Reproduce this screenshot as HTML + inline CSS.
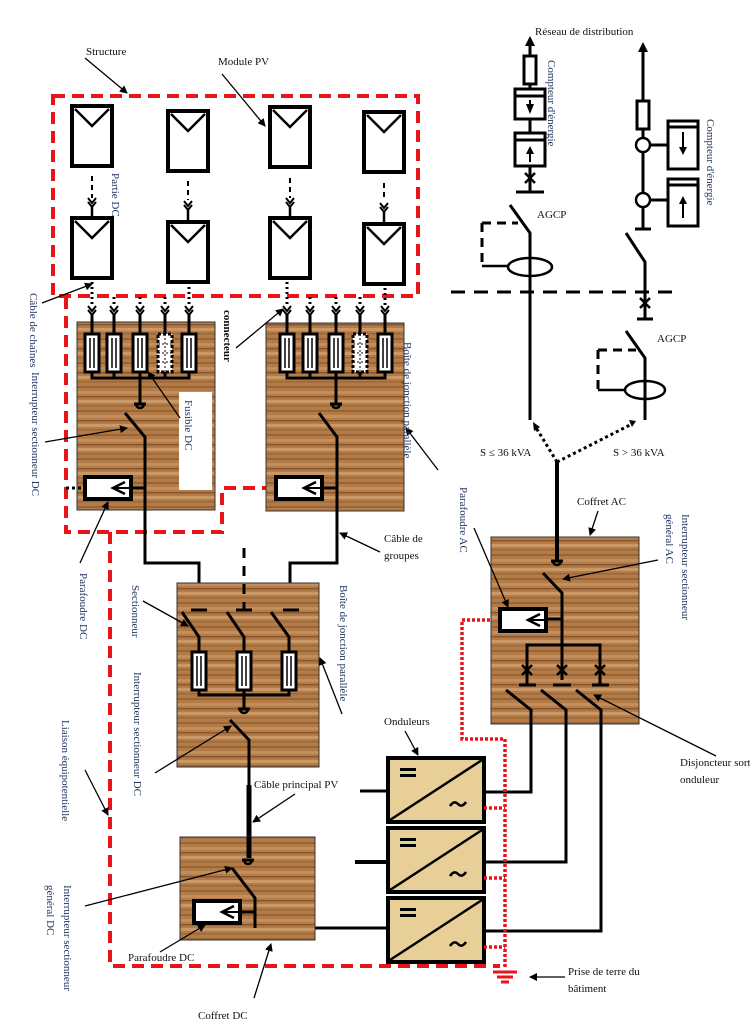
<!DOCTYPE html>
<html><head><meta charset="utf-8"><style>
html,body{margin:0;padding:0;background:#fff;}
svg{display:block;}
text{font-family:"Liberation Serif",serif;font-size:11px;fill:#111;}
.r{fill:#22365f;}
</style></head><body>
<svg width="750" height="1024" viewBox="0 0 750 1024" xmlns="http://www.w3.org/2000/svg">
<defs>
<pattern id="wood" width="60" height="24" patternUnits="userSpaceOnUse">
<rect width="60" height="24" fill="#b27b47"/>
<rect y="2" width="60" height="2" fill="#9a6535"/>
<rect y="7" width="60" height="3" fill="#c48e5a"/>
<rect y="12" width="60" height="1.5" fill="#8a5630"/>
<rect y="16" width="60" height="3" fill="#c99866"/>
<rect y="21" width="60" height="1.5" fill="#9c6838"/>
</pattern>
<marker id="ah" markerWidth="8" markerHeight="8" refX="7" refY="4" orient="auto" markerUnits="userSpaceOnUse">
<path d="M0,0 L8,4 L0,8 z" fill="#000"/></marker>
<g id="mod"><rect x="0" y="0" width="40" height="60" fill="#fff" stroke="#000" stroke-width="4"/><polyline points="3,3 20,20 37,3" fill="none" stroke="#000" stroke-width="2.5"/></g>
<g id="chev" fill="none" stroke="#000" stroke-width="2"><polyline points="-4,-4 0,1 4,-4"/><polyline points="-4,0 0,5 4,0"/></g>
<g id="fuse"><rect x="-7" y="0" width="14" height="38" fill="#fff" stroke="#000" stroke-width="3"/><line x1="-2" y1="4" x2="-2" y2="34" stroke="#000" stroke-width="1.5"/><line x1="2" y1="4" x2="2" y2="34" stroke="#000" stroke-width="1.5"/></g>
<g id="fuseD"><rect x="-7" y="0" width="14" height="38" fill="#fff" stroke="#000" stroke-width="3" stroke-dasharray="3,2"/><line x1="-7" y1="10" x2="7" y2="10" stroke="#000" stroke-dasharray="2,2"/><line x1="-7" y1="19" x2="7" y2="19" stroke="#000" stroke-dasharray="2,2"/><line x1="-7" y1="28" x2="7" y2="28" stroke="#000" stroke-dasharray="2,2"/><line x1="0" y1="0" x2="0" y2="38" stroke="#000" stroke-dasharray="2,2"/></g>
<g id="term"><line x1="-6" y1="0" x2="6" y2="0" stroke="#000" stroke-width="3"/><path d="M-4,0 A4,4 0 0 0 4,0" fill="none" stroke="#000" stroke-width="2.5"/></g>
<g id="para"><rect x="0" y="0" width="46" height="22" fill="#fff" stroke="#000" stroke-width="4"/><polyline points="40,5 28,11 40,17" fill="none" stroke="#000" stroke-width="2.5"/><line x1="28" y1="11" x2="46" y2="11" stroke="#000" stroke-width="2"/></g>
<g id="inv"><rect x="0" y="0" width="96" height="64" fill="#e8cf98" stroke="#000" stroke-width="4"/><line x1="2" y1="62" x2="94" y2="2" stroke="#000" stroke-width="2.5"/><rect x="12" y="10" width="16" height="3" fill="#000"/><rect x="12" y="16" width="16" height="3" fill="#000"/><path d="M62,48 q4,-6 8,-2 q4,4 8,-2" fill="none" stroke="#000" stroke-width="2.5"/></g>
</defs>

<g fill="none" stroke="#e8141a" stroke-width="4" stroke-dasharray="12,7">
<rect x="53" y="96" width="365" height="200"/>
<polyline points="66,297 66,532 222,532 222,488 270,488"/>
<polyline points="110,532 110,966 500,966"/>
</g>

<g>
<use href="#mod" x="72" y="106"/><use href="#mod" x="168" y="111"/><use href="#mod" x="270" y="107"/><use href="#mod" x="364" y="112"/>
<use href="#mod" x="72" y="218"/><use href="#mod" x="168" y="222"/><use href="#mod" x="270" y="218"/><use href="#mod" x="364" y="224"/>
</g>
<g stroke="#000" stroke-width="2" stroke-dasharray="5,4">
<line x1="92" y1="176" x2="92" y2="198"/><line x1="188" y1="181" x2="188" y2="200"/><line x1="290" y1="178" x2="290" y2="198"/><line x1="384" y1="183" x2="384" y2="200"/>
</g>
<use href="#chev" x="92" y="202"/><use href="#chev" x="188" y="205"/><use href="#chev" x="290" y="202"/><use href="#chev" x="384" y="207"/>
<g stroke="#000" stroke-width="2.5"><line x1="92" y1="207" x2="92" y2="218"/><line x1="188" y1="210" x2="188" y2="222"/><line x1="290" y1="207" x2="290" y2="218"/><line x1="384" y1="212" x2="384" y2="224"/></g>

<rect x="77" y="322" width="138" height="188" fill="url(#wood)" stroke="#333"/>
<rect x="266" y="323" width="138" height="188" fill="url(#wood)" stroke="#333"/>
<rect x="179" y="392" width="33" height="98" fill="#fff"/>
<g stroke="#000" stroke-width="3" stroke-dasharray="2,3" fill="none">
<line x1="92" y1="282" x2="92" y2="305"/><line x1="114" y1="297" x2="114" y2="305"/><line x1="140" y1="297" x2="140" y2="305"/><line x1="165" y1="297" x2="165" y2="305"/><line x1="189" y1="282" x2="189" y2="305"/>
<line x1="287" y1="282" x2="287" y2="305"/><line x1="310" y1="297" x2="310" y2="305"/><line x1="336" y1="297" x2="336" y2="305"/><line x1="360" y1="297" x2="360" y2="305"/><line x1="385" y1="288" x2="385" y2="305"/>
</g>
<g>
<use href="#chev" x="92" y="310"/><use href="#chev" x="114" y="310"/><use href="#chev" x="140" y="310"/><use href="#chev" x="165" y="310"/><use href="#chev" x="189" y="310"/>
<use href="#chev" x="287" y="310"/><use href="#chev" x="310" y="310"/><use href="#chev" x="336" y="310"/><use href="#chev" x="360" y="310"/><use href="#chev" x="385" y="310"/>
</g>
<g stroke="#000" stroke-width="3" fill="none">
<line x1="92" y1="314" x2="92" y2="334"/><line x1="114" y1="314" x2="114" y2="334"/><line x1="140" y1="314" x2="140" y2="334"/><line x1="165" y1="314" x2="165" y2="334"/><line x1="189" y1="314" x2="189" y2="334"/>
<line x1="287" y1="314" x2="287" y2="334"/><line x1="310" y1="314" x2="310" y2="334"/><line x1="336" y1="314" x2="336" y2="334"/><line x1="360" y1="314" x2="360" y2="334"/><line x1="385" y1="314" x2="385" y2="334"/>
<polyline points="92,372 92,378 189,378 189,372"/><line x1="114" y1="372" x2="114" y2="378"/><line x1="140" y1="372" x2="140" y2="403"/><line x1="165" y1="372" x2="165" y2="378"/>
<polyline points="287,372 287,378 385,378 385,372"/><line x1="310" y1="372" x2="310" y2="378"/><line x1="336" y1="372" x2="336" y2="403"/><line x1="360" y1="372" x2="360" y2="378"/>
<polyline points="125,413 145,437 145,563 199,563 199,610"/>
<polyline points="319,413 337,437 337,563 290,563 290,610"/>
<line x1="131" y1="488" x2="145" y2="488"/><line x1="322" y1="488" x2="337" y2="488"/>
<line x1="66" y1="488" x2="83" y2="488" stroke-dasharray="3,3"/>
</g>
<g>
<use href="#fuse" x="92" y="334"/><use href="#fuse" x="114" y="334"/><use href="#fuse" x="140" y="334"/><use href="#fuseD" x="165" y="334"/><use href="#fuse" x="189" y="334"/>
<use href="#fuse" x="287" y="334"/><use href="#fuse" x="310" y="334"/><use href="#fuse" x="336" y="334"/><use href="#fuseD" x="360" y="334"/><use href="#fuse" x="385" y="334"/>
<use href="#term" x="140" y="404"/><use href="#term" x="336" y="404"/>
<use href="#para" x="85" y="477"/><use href="#para" x="276" y="477"/>
</g>

<rect x="177" y="583" width="142" height="184" fill="url(#wood)" stroke="#333"/>
<line x1="244" y1="548" x2="244" y2="610" stroke="#000" stroke-width="3" stroke-dasharray="10,8"/>
<g stroke="#000" stroke-width="3" fill="none">
<line x1="191" y1="610" x2="207" y2="610"/><line x1="236" y1="610" x2="252" y2="610"/><line x1="283" y1="610" x2="299" y2="610"/>
<polyline points="182,612 199,637 199,652"/><polyline points="227,612 244,637 244,652"/><polyline points="271,612 289,637 289,652"/>
<polyline points="199,686 199,695 289,695 289,686"/><line x1="244" y1="686" x2="244" y2="708"/>
<polyline points="230,720 249,740 249,785"/>
<line x1="249" y1="785" x2="249" y2="858" stroke-width="5"/>
<polyline points="232,868 255,898 255,928 387,928"/>
<line x1="240" y1="912" x2="255" y2="912"/>
<line x1="360" y1="791" x2="387" y2="791"/><line x1="355" y1="862" x2="387" y2="862" stroke-width="4"/>
</g>
<use href="#fuse" x="199" y="652"/><use href="#fuse" x="244" y="652"/><use href="#fuse" x="289" y="652"/>
<use href="#term" x="244" y="709"/>

<rect x="180" y="837" width="135" height="103" fill="url(#wood)" stroke="#333"/>
<use href="#term" x="248" y="860"/>
<use href="#para" x="194" y="901"/>
<g stroke="#000" stroke-width="3" fill="none"><polyline points="232,868 255,898 255,928"/><line x1="240" y1="912" x2="255" y2="912"/><line x1="249" y1="837" x2="249" y2="858" stroke-width="5"/></g>

<use href="#inv" x="388" y="758"/><use href="#inv" x="388" y="828"/><use href="#inv" x="388" y="898"/>
<g stroke="#000" stroke-width="3" fill="none">
<polyline points="484,792 531,792 531,712"/><polyline points="484,862 566,862 566,712"/><polyline points="484,931 601,931 601,712"/>
</g>

<g fill="none" stroke="#e8141a" stroke-width="3.5" stroke-dasharray="3,2">
<polyline points="500,620 462,620 462,739 505,739 505,968"/>
<line x1="484" y1="808" x2="505" y2="808"/><line x1="484" y1="878" x2="505" y2="878"/><line x1="484" y1="947" x2="505" y2="947"/>
</g>
<g stroke="#e8141a" stroke-width="3"><line x1="493" y1="972" x2="517" y2="972"/><line x1="497" y1="977" x2="513" y2="977"/><line x1="501" y1="982" x2="509" y2="982"/></g>

<rect x="491" y="537" width="148" height="187" fill="url(#wood)" stroke="#333"/>
<g stroke="#000" stroke-width="3" fill="none">
<line x1="557" y1="462" x2="557" y2="560" stroke-width="4"/>
<polyline points="543,573 562,593 562,645"/>
<line x1="548" y1="619" x2="562" y2="619"/>
<polyline points="527,660 527,645 600,645 600,660"/><line x1="562" y1="645" x2="562" y2="680"/>
<line x1="527" y1="660" x2="527" y2="684"/><line x1="600" y1="660" x2="600" y2="684"/>
<line x1="519" y1="685" x2="536" y2="685"/><line x1="553" y1="685" x2="571" y2="685"/><line x1="592" y1="685" x2="609" y2="685"/>
<path d="M522,665 l10,10 M532,665 l-10,10 M557,665 l10,10 M567,665 l-10,10 M595,665 l10,10 M605,665 l-10,10" stroke-width="2.5"/>
<polyline points="506,690 531,710 531,730"/><polyline points="541,690 566,710 566,730"/><polyline points="576,690 601,710 601,730"/>
</g>
<use href="#term" x="557" y="561"/>
<use href="#para" x="500" y="609"/>

<g stroke="#000" stroke-width="3" fill="none">
<line x1="530" y1="46" x2="530" y2="192"/>
<rect x="524" y="56" width="12" height="28" fill="#fff"/>
<rect x="515" y="89" width="30" height="30" fill="#fff"/><line x1="515" y1="96" x2="545" y2="96"/>
<rect x="515" y="133" width="30" height="33" fill="#fff"/><line x1="515" y1="140" x2="545" y2="140"/>
<line x1="516" y1="192" x2="544" y2="192"/>
<path d="M525,173 l10,10 M535,173 l-10,10" stroke-width="2.5"/>
<polyline points="510,205 530,233 530,420"/>
<polyline points="482,223 518,223" stroke-dasharray="9,6"/><polyline points="482,223 482,266" stroke-dasharray="9,6"/>
<line x1="482" y1="266" x2="508" y2="266" stroke-width="2.5"/>
<ellipse cx="530" cy="267" rx="22" ry="9" stroke-width="2.5"/>
<line x1="451" y1="292" x2="672" y2="292" stroke-dasharray="14,9"/>
<line x1="643" y1="52" x2="643" y2="228"/>
<rect x="637" y="101" width="12" height="28" fill="#fff"/>
<circle cx="643" cy="145" r="7" fill="#fff" stroke-width="2.5"/><circle cx="643" cy="200" r="7" fill="#fff" stroke-width="2.5"/>
<line x1="650" y1="145" x2="668" y2="145"/><line x1="650" y1="200" x2="668" y2="200"/>
<rect x="668" y="121" width="30" height="48" fill="#fff"/><line x1="668" y1="127" x2="698" y2="127"/>
<rect x="668" y="179" width="30" height="47" fill="#fff"/><line x1="668" y1="185" x2="698" y2="185"/>
<line x1="635" y1="229" x2="651" y2="229"/>
<polyline points="626,233 645,262 645,318"/>
<path d="M640,298 l10,10 M650,298 l-10,10" stroke-width="2.5"/>
<line x1="637" y1="319" x2="653" y2="319"/>
<polyline points="626,331 645,358 645,420"/>
<polyline points="598,350 636,350" stroke-dasharray="9,6"/><polyline points="598,350 598,390" stroke-dasharray="9,6"/>
<line x1="598" y1="390" x2="624" y2="390" stroke-width="2.5"/>
<ellipse cx="645" cy="390" rx="20" ry="9" stroke-width="2.5"/>
<line x1="557" y1="462" x2="535" y2="426" stroke-dasharray="3,3"/>
<line x1="557" y1="462" x2="632" y2="424" stroke-dasharray="3,3"/>
</g>
<path d="M530,36 l-5,10 h10 z M643,42 l-5,10 h10 z M533,422 l1,9 l6,-4 z M636,421 l-7,-1 l3,7 z" fill="#000"/>
<g fill="#000"><path d="M530,98 l-4,10 h8 z" transform="rotate(180 530 106)"/><path d="M530,146 l-4,8 h8 z"/><path d="M683,140 l-4,-8 h8 z" transform="translate(0,15)"/><path d="M683,196 l-4,8 h8 z"/></g>
<g stroke="#000" stroke-width="2"><line x1="530" y1="100" x2="530" y2="112"/><line x1="530" y1="152" x2="530" y2="162"/><line x1="683" y1="132" x2="683" y2="148"/><line x1="683" y1="204" x2="683" y2="218"/></g>

<g stroke="#000" stroke-width="1.3" fill="none" marker-end="url(#ah)">
<line x1="85" y1="58" x2="127" y2="93"/>
<line x1="222" y1="74" x2="265" y2="126"/>
<line x1="42" y1="303" x2="92" y2="284"/>
<line x1="236" y1="348" x2="283" y2="309"/>
<line x1="180" y1="418" x2="148" y2="372"/>
<line x1="45" y1="442" x2="127" y2="428"/>
<line x1="80" y1="563" x2="108" y2="502"/>
<line x1="438" y1="470" x2="406" y2="428"/>
<line x1="380" y1="552" x2="340" y2="533"/>
<line x1="143" y1="601" x2="188" y2="626"/>
<line x1="342" y1="714" x2="320" y2="658"/>
<line x1="155" y1="773" x2="231" y2="726"/>
<line x1="85" y1="770" x2="108" y2="815"/>
<line x1="405" y1="731" x2="418" y2="755"/>
<line x1="295" y1="794" x2="253" y2="822"/>
<line x1="85" y1="906" x2="232" y2="868"/>
<line x1="160" y1="952" x2="205" y2="925"/>
<line x1="254" y1="998" x2="271" y2="944"/>
<line x1="598" y1="511" x2="590" y2="535"/>
<line x1="658" y1="560" x2="563" y2="579"/>
<line x1="474" y1="528" x2="508" y2="607"/>
<line x1="716" y1="756" x2="594" y2="695"/>
<line x1="565" y1="977" x2="530" y2="977"/>
</g>

<text x="535" y="35">Réseau de distribution</text>
<text x="537" y="218">AGCP</text>
<text x="657" y="342">AGCP</text>
<text x="480" y="456">S ≤ 36 kVA</text>
<text x="613" y="456">S &gt; 36 kVA</text>
<text x="86" y="55" font-size="10">Structure</text>
<text x="218" y="65" font-size="10">Module PV</text>
<text x="384" y="542">Câble de</text>
<text x="384" y="559">groupes</text>
<text x="384" y="725">Onduleurs</text>
<text x="254" y="788" font-size="12">Câble principal PV</text>
<text x="128" y="961">Parafoudre DC</text>
<text x="198" y="1019">Coffret DC</text>
<text x="577" y="505">Coffret AC</text>
<text x="680" y="766">Disjoncteur sortie</text>
<text x="680" y="783">onduleur</text>
<text x="568" y="975">Prise de terre du</text>
<text x="568" y="992">bâtiment</text>

<text class="r" transform="translate(548,60) rotate(90)" font-size="10">Compteur d'énergie</text>
<text class="r" transform="translate(707,119) rotate(90)">Compteur d'énergie</text>
<text class="r" transform="translate(112,173) rotate(90)" font-size="8">Partie DC</text>
<text class="r" transform="translate(30,293) rotate(90)">Câble de chaînes</text>
<text transform="translate(224,310) rotate(90)" font-weight="bold" fill="#22365f" font-size="11">connecteur</text>
<text class="r" transform="translate(185,400) rotate(90)" font-size="13">Fusible DC</text>
<text class="r" transform="translate(404,342) rotate(90)">Boîte de jonction parallèle</text>
<text class="r" transform="translate(32,372) rotate(90)">Interrupteur sectionneur DC</text>
<text class="r" transform="translate(80,573) rotate(90)">Parafoudre DC</text>
<text class="r" transform="translate(132,585) rotate(90)">Sectionneur</text>
<text class="r" transform="translate(134,672) rotate(90)">Interrupteur sectionneur DC</text>
<text class="r" transform="translate(340,585) rotate(90)">Boîte de jonction parallèle</text>
<text class="r" transform="translate(62,720) rotate(90)">Liaison équipotentielle</text>
<text class="r" transform="translate(64,885) rotate(90)">Interrupteur sectionneur</text>
<text class="r" transform="translate(47,885) rotate(90)">général DC</text>
<text class="r" transform="translate(460,487) rotate(90)">Parafoudre  AC</text>
<text class="r" transform="translate(682,514) rotate(90)">Interrupteur sectionneur</text>
<text class="r" transform="translate(666,514) rotate(90)">général  AC</text>
</svg>
</body></html>
